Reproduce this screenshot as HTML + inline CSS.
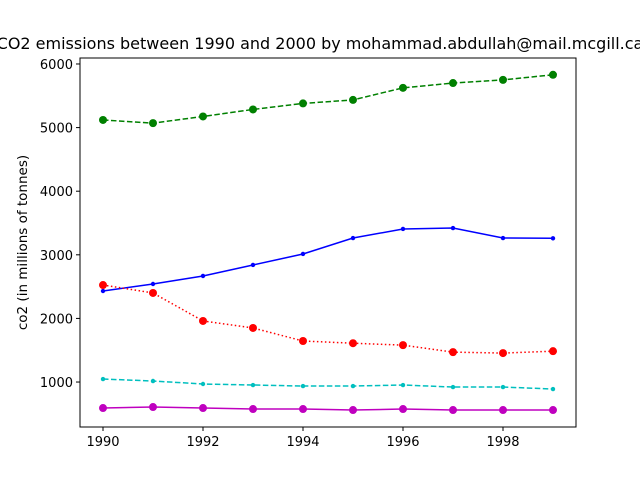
<!DOCTYPE html>
<html><head><meta charset="utf-8"><style>
body{margin:0;background:#fff;font-family:"Liberation Sans","DejaVu Sans",sans-serif;overflow:hidden;}
svg text{font-family:"DejaVu Sans","Liberation Sans",sans-serif;}
</style></head><body>
<svg id="c" width="640" height="480" xmlns="http://www.w3.org/2000/svg"></svg>
<script>
const years=[1990,1991,1992,1993,1994,1995,1996,1997,1998,1999];
const greenVals=[5120,5070,5175,5285,5380,5435,5625,5700,5750,5830];
const blueVals=[2431,2541,2667,2840,3013,3264,3406,3421,3264,3260];
const redVals=[2525,2400,1960,1850,1645,1610,1580,1470,1455,1485];
const cyanVals=[1047,1016,969,953,937,937,953,921,921,890];
const magentaVals=[591,607,591,575,575,560,575,560,560,560];
const xTicks=[1990,1992,1994,1996,1998];
const yTicks=[1000,2000,3000,4000,5000,6000];
const L=80,R=576,T=58,B=427,x0=1989.54,x1=1999.46,y0=293,y1=6094;
const X=v=>L+(v-x0)/(x1-x0)*(R-L);
const Y=v=>B-(v-y0)/(y1-y0)*(B-T);
const svg=document.getElementById('c');const NS='http://www.w3.org/2000/svg';
function mk(t,a,p){const e=document.createElementNS(NS,t);for(const k in a)e.setAttribute(k,a[k]);(p||svg).appendChild(e);return e;}
let t=mk('text',{x:320,y:49,'text-anchor':'middle','font-size':16});t.textContent='CO2 emissions between 1990 and 2000 by mohammad.abdullah@mail.mcgill.ca';


t=mk('text',{x:0,y:0,'text-anchor':'middle','font-size':13.5,transform:`translate(27,${(T+B)/2}) rotate(-90)`});t.textContent='co2 (in millions of tonnes)';


xTicks.forEach(v=>{mk('line',{x1:X(v),x2:X(v),y1:B,y2:B+4,stroke:'#000'});const s=mk('text',{x:X(v),y:B+19,'text-anchor':'middle','font-size':13});s.textContent=v;

});
yTicks.forEach(v=>{mk('line',{x1:L-4,x2:L,y1:Y(v),y2:Y(v),stroke:'#000'});const s=mk('text',{x:L-7,y:Y(v)+5,'text-anchor':'end','font-size':13});s.textContent=v;

});
const series=[
 {n:'green',c:'#008000',d:greenVals,dash:'5.5,2.5',r:4},
 {n:'blue',c:'#0000ff',d:blueVals,dash:'',r:2.2},
 {n:'red',c:'#ff0000',d:redVals,dash:'1.5,2.5',r:4},
 {n:'cyan',c:'#00bfbf',d:cyanVals,dash:'5.5,2.5',r:2.2},
 {n:'magenta',c:'#bf00bf',d:magentaVals,dash:'',r:4}];
series.forEach(s=>{
 const g=mk('g',{});
 
 
 mk('polyline',{points:years.map((y,i)=>X(y)+','+Y(s.d[i])).join(' '),fill:'none',stroke:s.c,'stroke-width':1.5,'stroke-dasharray':s.dash},g);
 years.forEach((y,i)=>{const p=mk('circle',{cx:X(y),cy:Y(s.d[i]),r:s.r,fill:s.c},g);
 
 });
});
const f=mk('rect',{x:L,y:T,width:R-L,height:B-T,fill:'none',stroke:'#000','stroke-width':1});


</script>
</body></html>
